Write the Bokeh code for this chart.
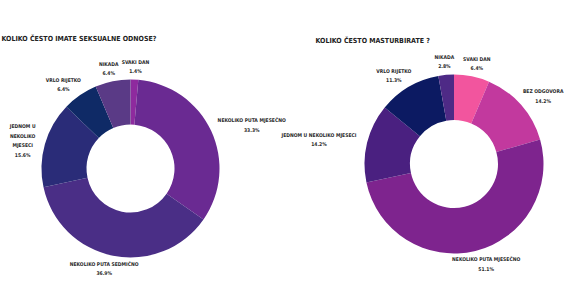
import math
from bokeh.plotting import figure
from bokeh.models import ColumnDataSource, Range1d
from bokeh.core.properties import value
from bokeh.embed import file_html
from bokeh.resources import INLINE

# ---- data ----
left_title = "KOLIKO ČESTO IMATE SEKSUALNE ODNOSE?"
left_categories = ["SVAKI DAN", "NEKOLIKO PUTA MJESEČNO", "NEKOLIKO PUTA SEDMIČNO",
                   "JEDNOM U NEKOLIKO MJESECI", "VRLO RIJETKO", "NIKADA"]
left_values = [1.4, 33.3, 36.9, 15.6, 6.4, 6.4]
left_colors = ["#8E2A9E", "#6A2A92", "#4A2E86", "#2A2C78", "#0F2A66", "#5A3A86"]

right_title = "KOLIKO ČESTO MASTURBIRATE ?"
right_categories = ["SVAKI DAN", "BEZ ODGOVORA", "NEKOLIKO PUTA MJESEČNO",
                    "JEDNOM U NEKOLIKO MJESECI", "VRLO RIJETKO", "NIKADA"]
right_values = [6.4, 14.2, 51.1, 14.2, 11.3, 2.8]
right_colors = ["#F2559E", "#C2399E", "#7E248E", "#4A2080", "#0C1A62", "#4E2A86"]

W, H = 585, 293
FONT = "'DejaVu Sans Condensed', 'Liberation Sans Narrow', 'DejaVu Sans', sans-serif"
CHAR_W = 3.1  # approx px per uppercase char at label size

p = figure(width=W, height=H, output_backend="svg", toolbar_location=None,
           x_range=Range1d(0, W), y_range=Range1d(0, H),
           x_axis_type=None, y_axis_type=None, min_border=0)
p.grid.visible = False
p.outline_line_color = None
p.background_fill_color = "white"
p.border_fill_color = "white"


def wrap(words, max_chars):
    lines, cur = [], ""
    for w in words.split():
        if cur and len(cur) + 1 + len(w) > max_chars:
            lines.append(cur)
            cur = w
        else:
            cur = (cur + " " + w).strip()
    lines.append(cur)
    return lines


def donut(cats, vals, cols, cx, cy, r, r_in):
    total = sum(vals)
    starts, ends, lx, ly, txt = [], [], [], [], []
    cum = 0.0
    for c, v in zip(cats, vals):
        f0 = cum / total
        cum += v
        f1 = cum / total
        starts.append(math.pi / 2 - f0 * 2 * math.pi)
        ends.append(math.pi / 2 - f1 * 2 * math.pi)
        mid = (f0 + f1) / 2 * 2 * math.pi  # clockwise from top
        rl = r * 1.12
        ax = cx + rl * math.sin(mid)
        ay = cy + rl * math.cos(mid)
        lines = [c]
        half_w = len(c) * CHAR_W / 2
        x = ax + half_w * math.sin(mid)
        if x - half_w < 1 or x + half_w > W - 1:
            lines = wrap(c, 9)
            half_w = max(len(s) for s in lines) * CHAR_W / 2
            x = ax + half_w * math.sin(mid)
            x = min(max(x, half_w + 2), W - half_w - 2)
        yc = ay + 2.5 * math.cos(mid)
        lx.append(x)
        ly.append(yc)
        txt.append("\n".join(lines + [f"{v:.1f}%"]))
    src = ColumnDataSource(dict(start=starts, end=ends, color=cols,
                                x=[cx] * len(vals), y=[cy] * len(vals)))
    p.annular_wedge(x="x", y="y", inner_radius=r_in, outer_radius=r,
                    start_angle="start", end_angle="end", direction="clock",
                    fill_color="color", line_color=None, source=src)
    lsrc = ColumnDataSource(dict(x=lx, y=ly, text=txt))
    p.text(x="x", y="y", text="text", source=lsrc,
           text_font=value(FONT), text_font_style="bold",
           text_font_size="5px", text_color="#2a2a2a", text_line_height=1.6,
           text_align="center", text_baseline="middle")


donut(left_categories, left_values, left_colors, 130, H - 168, 89, 44)
donut(right_categories, right_values, right_colors, 453.5, H - 163.5, 89.5, 44)

p.text(x=[1], y=[H - 38], text=[left_title], text_font=value(FONT),
       text_font_style="bold", text_font_size="7px", text_color="#222222",
       text_align="left", text_baseline="middle")
p.text(x=[315], y=[H - 40], text=[right_title], text_font=value(FONT),
       text_font_style="bold", text_font_size="7px", text_color="#222222",
       text_align="left", text_baseline="middle")

open("out.html", "w").write(file_html(p, INLINE))
